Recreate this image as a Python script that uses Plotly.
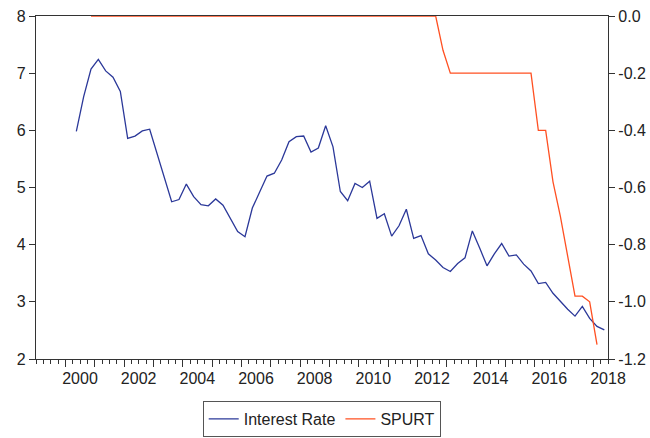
import pandas as pd
import plotly.graph_objects as go

# Quarterly observation periods for each series
rate_quarters = pd.period_range("2000Q2", "2018Q2", freq="Q")
spurt_quarters = pd.period_range("2000Q4", "2018Q1", freq="Q")

# Interest rate, quarterly (left axis)
interest_rate = [
    5.98, 6.59, 7.07,                 # 2000 Q2-Q4
    7.24, 7.04, 6.93, 6.68,           # 2001
    5.86, 5.90, 5.99, 6.02,           # 2002
    5.60, 5.18, 4.75, 4.79,           # 2003
    5.06, 4.84, 4.70, 4.68,           # 2004
    4.80, 4.69, 4.47, 4.23,           # 2005
    4.14, 4.64, 4.92, 5.20,           # 2006
    5.25, 5.48, 5.80, 5.89,           # 2007
    5.90, 5.62, 5.69, 6.08,           # 2008
    5.71, 4.93, 4.77, 5.07,           # 2009
    5.00, 5.11, 4.46, 4.54,           # 2010
    4.15, 4.33, 4.62, 4.11,           # 2011
    4.16, 3.84, 3.73, 3.60,           # 2012
    3.53, 3.67, 3.77, 4.24,           # 2013
    3.94, 3.63, 3.84, 4.02,           # 2014
    3.80, 3.82, 3.66, 3.54,           # 2015
    3.32, 3.34, 3.15, 3.01,           # 2016
    2.87, 2.75, 2.92, 2.71,           # 2017
    2.57, 2.51,                       # 2018 Q1-Q2
]

# SPURT, quarterly (right axis): zero from 2000Q4 through 2012Q3
spurt = [0.0] * 48 + [
    -0.12,                            # 2012 Q4
    -0.20, -0.20, -0.20, -0.20,       # 2013
    -0.20, -0.20, -0.20, -0.20,       # 2014
    -0.20, -0.20, -0.20, -0.20,       # 2015
    -0.40, -0.40, -0.58, -0.70,       # 2016
    -0.84, -0.98, -0.98, -1.00,       # 2017
    -1.15,                            # 2018 Q1
]

year_labels = [str(y) for y in range(2000, 2019, 2)]
left_ticks = [2, 3, 4, 5, 6, 7, 8]
right_tick_vals = [0.0, -0.2, -0.4, -0.6, -0.8, -1.0, -1.2]
right_tick_text = ["0.0", "-0.2", "-0.4", "-0.6", "-0.8", "-1.0", "-1.2"]

BLUE = "#2B3899"
ORANGE = "#FF5022"
AXIS = "#333333"
TEXT = "#222222"
FONT_SIZE = 16


def mid_quarter(periods):
    """Place each quarter at the middle of its slot on a decimal-year axis."""
    return list(periods.year + (periods.quarter - 1) / 4 + 0.125)


fig = go.Figure()
fig.add_trace(go.Scatter(
    x=mid_quarter(rate_quarters), y=interest_rate, mode="lines",
    name="Interest Rate", line=dict(color=BLUE, width=1.3),
    xaxis="x", yaxis="y",
))
fig.add_trace(go.Scatter(
    x=mid_quarter(spurt_quarters), y=spurt, mode="lines",
    name="SPURT", line=dict(color=ORANGE, width=1.3),
    xaxis="x2", yaxis="y2",
))

x_range = [1999, 2018.5]

fig.update_layout(
    width=650, height=438,
    margin=dict(l=36, r=42, t=16, b=79, autoexpand=False),
    paper_bgcolor="white", plot_bgcolor="white",
    font=dict(family="Liberation Sans, Arial, sans-serif", size=FONT_SIZE, color=TEXT),
    showlegend=True,
    legend=dict(
        orientation="h", x=0.4995, xanchor="center", y=-0.2274, yanchor="bottom",
        bordercolor="#555555", borderwidth=1, bgcolor="white",
        font=dict(size=FONT_SIZE, color=TEXT),
    ),
    # year boundaries (major) and quarters (minor)
    xaxis=dict(
        range=x_range, tickmode="array", tickvals=list(range(2000, 2019)),
        ticks="outside", ticklen=7, tickwidth=1, tickcolor=AXIS,
        showticklabels=False, showline=True, linecolor=AXIS, linewidth=1.3,
        mirror=True, showgrid=False, zeroline=False,
        minor=dict(dtick=0.25, tick0=1999, ticks="outside", ticklen=4,
                   tickwidth=1, tickcolor=AXIS, showgrid=False),
    ),
    # year labels centred within each year
    xaxis2=dict(
        overlaying="x", anchor="y", side="bottom", range=x_range,
        tickmode="array",
        tickvals=[int(s) + 0.5 for s in year_labels], ticktext=year_labels,
        ticks="outside", ticklen=5, tickcolor="rgba(0,0,0,0)",
        showline=False, showgrid=False, zeroline=False,
    ),
    yaxis=dict(
        range=[2, 8], tickmode="array", tickvals=left_ticks,
        ticks="outside", ticklen=6, tickcolor=AXIS,
        showline=True, linecolor=AXIS, linewidth=1.3,
        showgrid=False, zeroline=False,
    ),
    yaxis2=dict(
        overlaying="y", side="right", anchor="x", range=[-1.2, 0.0],
        tickmode="array", tickvals=right_tick_vals, ticktext=right_tick_text,
        ticks="outside", ticklen=6, tickcolor=AXIS,
        showline=True, linecolor=AXIS, linewidth=1.3,
        showgrid=False, zeroline=False,
    ),
)

fig.write_html("out.html")
